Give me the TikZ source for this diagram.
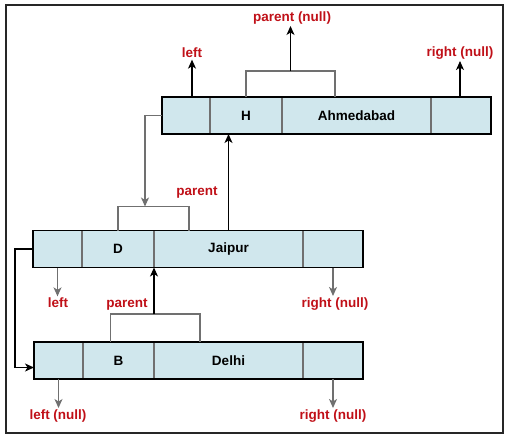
\documentclass[tikz,border=0pt]{standalone}
\usepackage{fontspec}
\setmainfont{Liberation Sans}
\usetikzlibrary{positioning,arrows.meta,calc}
\definecolor{cellblue}{RGB}{208,231,237}
\definecolor{lblred}{RGB}{192,16,24}
\definecolor{linegray}{RGB}{112,112,112}
\tikzset{
  cell/.style={draw=linegray, line width=1.2pt, fill=cellblue, minimum height=37pt, inner sep=0pt, outer sep=0pt, font=\fontsize{13.5}{16}\selectfont\bfseries},
  lbl/.style={text=lblred, inner sep=1.5pt, font=\fontsize{13.5}{16}\selectfont\bfseries},
  arrow/.style={-{Stealth[length=9pt,width=8pt,inset=2.5pt]}, line width=1.1pt},
  garrow/.style={-{Stealth[length=9pt,width=8pt,inset=2.5pt]}, line width=1.3pt, draw=linegray},
  bracket/.style={line width=1.3pt, draw=linegray},
  rowframe/.style={line width=1.2pt, draw=black}
}
\begin{document}
\begin{tikzpicture}[x=1pt, y=-1pt]
    \useasboundingbox (0,0) rectangle (514,445);
    \draw[line width=2.2pt, black!85] (6,5) rectangle (503,433);

    \node[cell, minimum width=48pt] (hl) at (186,115.5) {};
    \node[cell, minimum width=72pt, right=0pt of hl] (hk) {H};
    \node[cell, minimum width=149pt, right=0pt of hk] (hv) {Ahmedabad};
    \node[cell, minimum width=60pt, right=0pt of hv] (hr) {};
    \draw[rowframe] (hl.north west) rectangle (hr.south east);

    \node[cell, minimum width=49pt] (dl) at (57.5,249) {};
    \node[cell, minimum width=72pt, right=0pt of dl] (dk) {D};
    \node[cell, minimum width=149pt, right=0pt of dk] (dv) {Jaipur};
    \node[cell, minimum width=60pt, right=0pt of dv] (dr) {};
    \draw[rowframe] (dl.north west) rectangle (dr.south east);

    \node[cell, minimum width=49pt] (bl) at (58.5,360.5) {};
    \node[cell, minimum width=71pt, right=0pt of bl] (bk) {B};
    \node[cell, minimum width=149pt, right=0pt of bk] (bv) {Delhi};
    \node[cell, minimum width=60pt, right=0pt of bv] (br) {};
    \draw[rowframe] (bl.north west) rectangle (br.south east);

    \node[lbl] (hleft) at (192,53) {left};
    \node[lbl] (hpar) at (292,18) {parent (null)};
    \node[lbl] (hright) at (460,53) {right (null)};
    \node[lbl] (dpar) at (197,192) {parent};
    \node[lbl] (dleft) at (58,303) {left};
    \node[lbl] (dright) at (335,304) {right (null)};
    \node[lbl] (bpar) at (127,304) {parent};
    \node[lbl] (bleft) at (58,416) {left (null)};
    \node[lbl] (bright) at (333,416) {right (null)};

    \draw[arrow] (hleft.south |- hl.north) -- (hleft.south);
    \draw[bracket] (hk.north) -- ++(0,-26) coordinate (hbtl) -| ($(hv.north west)+(53,0)$) coordinate (hbr);
    \coordinate (hbm) at ($(hbtl)!0.5!(hbtl -| hbr)$);
    \draw[arrow] (hbm) -- (hbm |- hpar.south);
    \draw[arrow] (hright.south |- hr.north) -- (hright.south);

    \draw[bracket] (dk.north) -- ++(0,-24) coordinate (dbtl) -| ($(dv.north west)+(35,0)$);
    \coordinate (dbm) at ($(dbtl)+(27,0)$);
    \draw[garrow] (hl.west) -| (dbm);
    \draw[arrow] (dv.north) -- (dv.north |- hk.south);
    \draw[garrow] (dl.south) -- (dl.south |- dleft.north);
    \draw[garrow] (dr.south) -- (dr.south |- dright.north);

    \draw[bracket] ($(bk.north)+(-8,0)$) -- ++(0,-28) coordinate (bbtl) -| ($(bv.north west)+(46,0)$);
    \draw[arrow] (bbtl -| bv.west) -- (dk.south east);
    \draw[arrow] (dl.west) -- ++(-18,0) |- ($(bl.west)+(0,7)$);
    \draw[garrow] (bl.south) -- (bl.south |- bleft.north);
    \draw[garrow] (br.south) -- (br.south |- bright.north);
\end{tikzpicture}
\end{document}
